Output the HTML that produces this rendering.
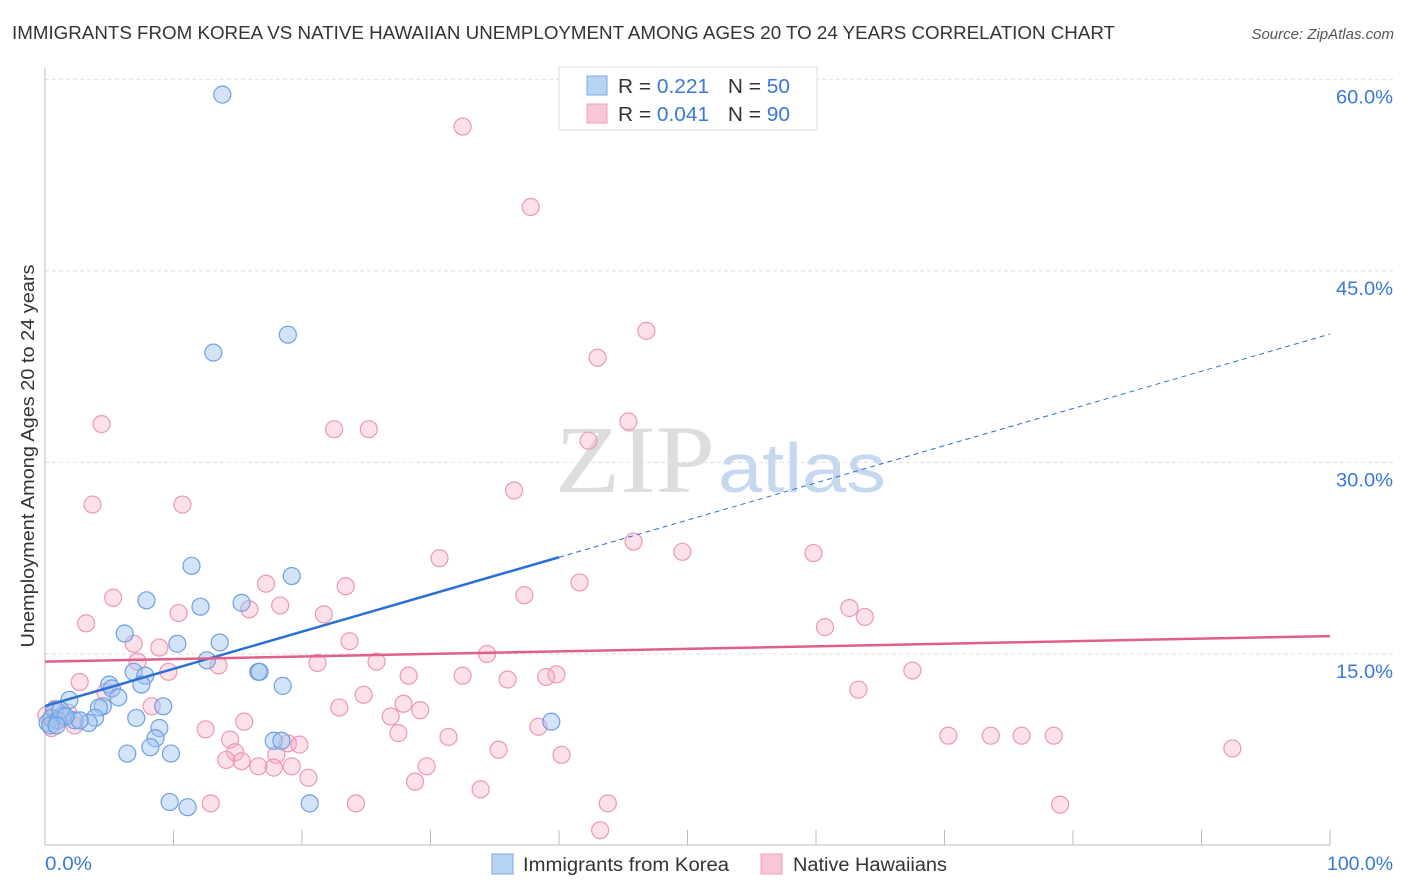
<!DOCTYPE html>
<html><head><meta charset="utf-8"><style>
body{margin:0;background:#fff;font-family:"Liberation Sans",sans-serif}
svg{display:block}
</style></head><body>
<svg id="chart" width="1406" height="892">
<text x="12" y="39" font-size="18" textLength="1103" lengthAdjust="spacingAndGlyphs" fill="#333">IMMIGRANTS FROM KOREA VS NATIVE HAWAIIAN UNEMPLOYMENT AMONG AGES 20 TO 24 YEARS CORRELATION CHART</text>
<text x="1394" y="39" font-size="15" fill="#555" font-style="italic" text-anchor="end">Source: ZipAtlas.com</text>
<text x="555" y="492" font-size="96" textLength="160" lengthAdjust="spacingAndGlyphs" fill="#ddd" font-family="Liberation Serif,serif">ZIP</text>
<text x="718" y="492" font-size="70" textLength="168" lengthAdjust="spacingAndGlyphs" fill="#c5d8f0">atlas</text>
<text transform="translate(34,456) rotate(-90)" font-size="18" textLength="383" lengthAdjust="spacingAndGlyphs" fill="#333" text-anchor="middle">Unemployment Among Ages 20 to 24 years</text>
<g id="grid"></g><g id="pts"></g><g id="lines"></g>
<g>
<rect x="559" y="67" width="258" height="63" fill="#fff" stroke="#ddd"/>
<rect x="587" y="76" width="20" height="19" fill="#b8d3f4" stroke="#7eaae6"/>
<rect x="587" y="104" width="20" height="19" fill="#f8c6d5" stroke="#eea0b8"/>
<text x="618" y="93" font-size="20" textLength="172" lengthAdjust="spacingAndGlyphs" fill="#333">R = <tspan fill="#3a78d8">0.221</tspan><tspan dx="18">N = </tspan><tspan fill="#3a78d8">50</tspan></text>
<text x="618" y="121" font-size="20" textLength="172" lengthAdjust="spacingAndGlyphs" fill="#333">R = <tspan fill="#3a78d8">0.041</tspan><tspan dx="18">N = </tspan><tspan fill="#3a78d8">90</tspan></text>
</g>
<rect x="492" y="854" width="21" height="20" fill="#b8d3f4" stroke="#7eaae6"/>
<text x="523" y="871" font-size="19" textLength="206" lengthAdjust="spacingAndGlyphs" fill="#333">Immigrants from Korea</text>
<rect x="761" y="854" width="21" height="20" fill="#f8c6d5" stroke="#eea0b8"/>
<text x="793" y="871" font-size="19" textLength="154" lengthAdjust="spacingAndGlyphs" fill="#333">Native Hawaiians</text>
</svg>
<script>
const yTicks=[15,30,45,60];
const xTicks=[0,10,20,30,40,50,60,70,80,90,100];
const koreaX=[13.8,13.1,18.9,11.4,19.2,7.9,12.1,15.3,6.2,10.3,13.6,12.6,6.9,7.8,16.6,16.7,5.0,7.5,5.2,18.5,1.9,5.7,4.5,4.2,9.2,0.7,1.4,7.1,3.9,3.4,2.3,2.7,8.9,8.6,8.2,6.4,9.8,17.8,18.4,39.4,9.7,11.1,20.6,0.2,0.5,1.0,0.4,1.2,1.6,0.9];
const koreaY=[58.8,38.6,40.0,21.9,21.1,19.2,18.7,19.0,16.6,15.8,15.9,14.5,13.6,13.3,13.6,13.6,12.6,12.6,12.3,12.5,11.4,11.6,10.9,10.8,10.9,10.6,10.2,9.99,10.0,9.6,9.8,9.8,9.2,8.4,7.7,7.2,7.2,8.2,8.2,9.7,3.4,3.0,3.3,9.6,9.97,9.8,9.4,10.6,10.1,9.4];
const hawX=[32.5,37.8,46.8,43.0,4.4,22.5,25.2,45.4,42.3,3.7,10.7,36.5,30.7,45.8,49.6,59.8,41.6,17.2,5.3,23.4,37.3,18.3,10.4,15.9,21.7,62.6,63.8,3.2,60.7,6.9,8.9,23.7,34.4,7.2,9.6,13.5,21.2,25.8,32.5,28.3,39.8,39.0,36.0,67.5,2.7,63.3,24.8,4.7,8.3,22.9,27.9,29.2,26.9,15.5,12.5,38.4,27.5,70.3,73.6,76.0,78.5,92.4,14.4,18.9,19.8,31.4,35.3,40.2,14.8,18.0,15.3,14.1,16.6,17.8,19.2,20.5,29.7,28.8,33.9,12.9,24.2,43.8,79.0,43.2,0.8,1.3,2.3,0.5,0.1,1.8];
const hawY=[56.3,50.0,40.3,38.2,33.0,32.6,32.6,33.2,31.7,26.7,26.7,27.8,22.5,23.8,23.0,22.9,20.6,20.5,19.4,20.3,19.6,18.8,18.2,18.5,18.1,18.6,17.9,17.4,17.1,15.8,15.5,16.0,15.0,14.4,13.6,14.1,14.3,14.4,13.3,13.3,13.4,13.2,13.0,13.7,12.8,12.2,11.8,12.0,10.9,10.8,11.1,10.6,10.1,9.7,9.1,9.3,8.8,8.6,8.6,8.6,8.6,7.6,8.3,8.0,7.9,8.5,7.5,7.1,7.3,7.1,6.6,6.7,6.2,6.1,6.2,5.3,6.2,5.0,4.4,3.3,3.3,3.3,3.2,1.2,10.7,9.99,9.4,9.2,10.2,10.4];
const koreaFit=[10.92,40.05];
const hawFit=[14.4,16.4];
const X=v=>45+v*12.85, Y=v=>845.5-v*12.77;
const NS="http://www.w3.org/2000/svg";
function mk(t,a,p){const e=document.createElementNS(NS,t);for(const k in a)e.setAttribute(k,a[k]);p.appendChild(e);return e;}
const g=document.getElementById('grid');
yTicks.forEach(v=>{
 const l=mk('line',{x1:45,x2:1394,y1:Y(v),y2:Y(v),stroke:'#ddd','stroke-dasharray':'4,3'},g);
 
 
 const t=mk('text',{x:1393,y:Y(v)+24,'font-size':19,fill:'#3a78d8','text-anchor':'end',textLength:57,lengthAdjust:'spacingAndGlyphs'},g);
 t.textContent=v.toFixed(1)+'%';
 
 
});
mk('line',{x1:45,x2:45,y1:68,y2:845,stroke:'#bbb'},g);
mk('line',{x1:45,x2:1330,y1:845,y2:845,stroke:'#bbb'},g);
xTicks.forEach(v=>{
 const l=mk('line',{x1:X(v),x2:X(v),y1:830,y2:845,stroke:'#bbb'},g);
 
 
});
[[0,'0.0%','start',45,47],[100,'100.0%','end',1393,66]].forEach(d=>{
 const t=mk('text',{x:d[3],y:870,'font-size':19,fill:'#3a78d8','text-anchor':d[2],textLength:d[4],lengthAdjust:'spacingAndGlyphs'},g);
 t.textContent=d[1];
 
 
});
const p=document.getElementById('pts');
hawX.forEach((x,i)=>{
 const c=mk('circle',{cx:X(x),cy:Y(hawY[i]),r:8.5,fill:'rgba(245,170,195,0.35)',stroke:'#ec98b3','stroke-width':1.2},p);
 
 
});
koreaX.forEach((x,i)=>{
 const c=mk('circle',{cx:X(x),cy:Y(koreaY[i]),r:8.5,fill:'rgba(160,195,240,0.45)',stroke:'#6d9fe2','stroke-width':1.2},p);
 
 
});
const L=document.getElementById('lines');
const kf=x=>koreaFit[0]+(koreaFit[1]-koreaFit[0])*x/100;
let a=mk('line',{x1:X(0),y1:Y(kf(0)),x2:X(40),y2:Y(kf(40)),stroke:'#2a6fd6','stroke-width':2.5},L);


a=mk('line',{x1:X(40),y1:Y(kf(40)),x2:X(100),y2:Y(kf(100)),stroke:'#2a6fd6','stroke-width':1,'stroke-dasharray':'5,4'},L);


a=mk('line',{x1:X(0),y1:Y(hawFit[0]),x2:X(100),y2:Y(hawFit[1]),stroke:'#e0608a','stroke-width':2.5},L);


</script>
</body></html>
